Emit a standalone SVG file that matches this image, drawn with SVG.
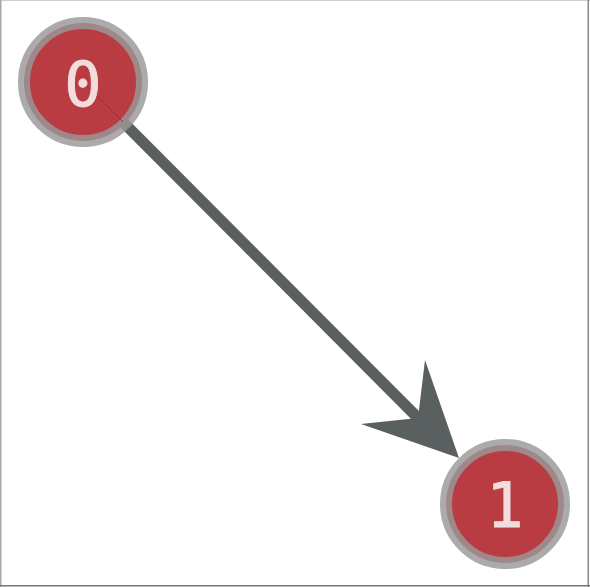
<svg xmlns="http://www.w3.org/2000/svg" width="590" height="587" viewBox="0 0 590 587">
<style>
.node circle{fill:#b83c42;stroke:#999;stroke-opacity:0.82;stroke-width:12}
.node text{font-family:"DejaVu Sans Mono",monospace;font-size:62px;fill:#f3dcdd;stroke:#f3dcdd;stroke-width:0.9;text-anchor:middle}
.edge{stroke:#5a605f;stroke-width:11;fill:none}
.head{fill:#5a605f}
</style>
<rect x="0" y="0" width="590" height="587" fill="#fff"/>
<line x1="0" y1="0.5" x2="590" y2="0.5" stroke="#cfcfcf" stroke-width="1"/>
<line x1="0.75" y1="0" x2="0.75" y2="587" stroke="#a8a8a8" stroke-width="1.5"/>
<line x1="588.25" y1="0" x2="588.25" y2="587" stroke="#8a8a8a" stroke-width="1.5"/>
<line x1="0" y1="585.75" x2="590" y2="585.75" stroke="#777" stroke-width="1.5"/>
<g id="connectors">
<line class="edge" x1="83" y1="82" x2="420" y2="420"/>
<path class="head" d="M459,458 L425,360 L418,418 L361,424 Z"/>
</g>
<g id="node-0" class="node">
<circle cx="83" cy="82" r="59"/>
<line x1="86" y1="85" x2="123" y2="122" stroke="#8e2f35" stroke-width="1"/>
<text x="83" y="106">0</text>
</g>
<g id="node-1" class="node">
<circle cx="505" cy="504" r="59"/>
<text x="505" y="527">1</text>
</g>
</svg>
